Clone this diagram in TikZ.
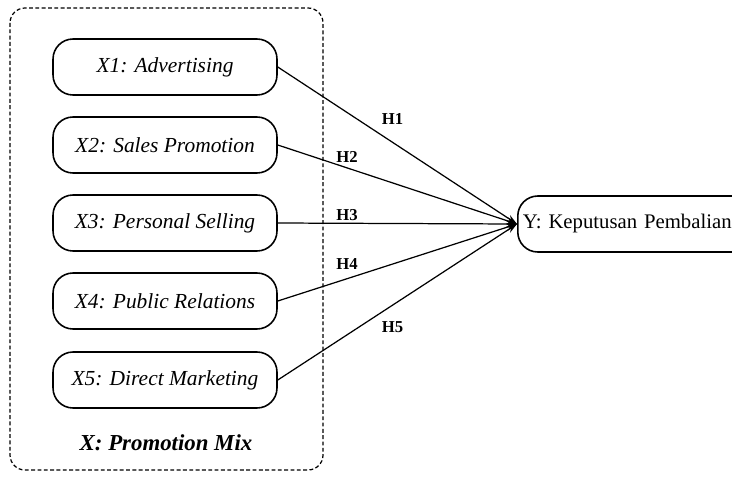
\documentclass[tikz,border=0pt]{standalone}
\usepackage{fontspec}
\setmainfont{Liberation Serif}
\usetikzlibrary{arrows.meta}

\tikzset{
	dim/.style={draw, line width=0.9pt, rounded corners=0.4cm, minimum width=4.48cm, minimum height=1.12cm, font=\fontsize{12.2}{14}\selectfont\itshape},
	target/.style={draw, line width=0.9pt, rounded corners=0.4cm, minimum width=5.2cm, minimum height=1.12cm, font=\fontsize{11.8}{14}\selectfont, anchor=west, text width=5cm, align=left, inner xsep=0.08cm},
	hyp/.style={-{Stealth[length=6pt,width=4pt]}, line width=0.7pt},
	hlab/.style={font=\fontsize{9.5}{11}\selectfont\bfseries, inner sep=1pt}
}

\begin{document}
\begin{tikzpicture}[x=0.02cm, y=-0.02cm]
			%%%%% START %%%%%
			
			\useasboundingbox (0, 0) rectangle (732, 477);
			\begin{scope}
			\clip (0, 0) rectangle (732, 477);
			
			% outer group
			\draw[dash pattern=on 2.2pt off 1.4pt, line width=0.7pt, rounded corners=0.3cm] (10, 8) rectangle (323, 470);
			\node[font=\fontsize{13}{15}\selectfont\bfseries\itshape] (mix) at (166, 443) {X: Promotion Mix};
			
			% dimensions
			\node[dim] (x1) at (165, 67) {X1: Advertising};
			\node[dim] (x2) at (165, 145) {X2: Sales Promotion};
			\node[dim] (x3) at (165, 223) {X3: Personal Selling};
			\node[dim] (x4) at (165, 301) {X4: Public Relations};
			\node[dim] (x5) at (165, 380) {X5: Direct Marketing};
			
			% dependent variable
			\node[target] (y) at (517, 224) {Y: Keputusan Pembalian};
			
			% hypotheses
			\draw[hyp] (x1.east) -- node[hlab, above, pos=0.48, yshift=9pt] (h1) {H1} (y.west);
			\draw[hyp] (x2.east) -- node[hlab, above, pos=0.29, yshift=2pt] (h2) {H2} (y.west);
			\draw[hyp] (x3.east) -- node[hlab, above, pos=0.29] (h3) {H3} (y.west);
			\draw[hyp] (x4.east) -- node[hlab, above, pos=0.29, yshift=4pt] (h4) {H4} (y.west);
			\draw[hyp] (x5.east) -- node[hlab, below, pos=0.48, yshift=-8pt] (h5) {H5} (y.west);
			
			\end{scope}
			
			%%%%% END %%%%%
\end{tikzpicture}
\end{document}
